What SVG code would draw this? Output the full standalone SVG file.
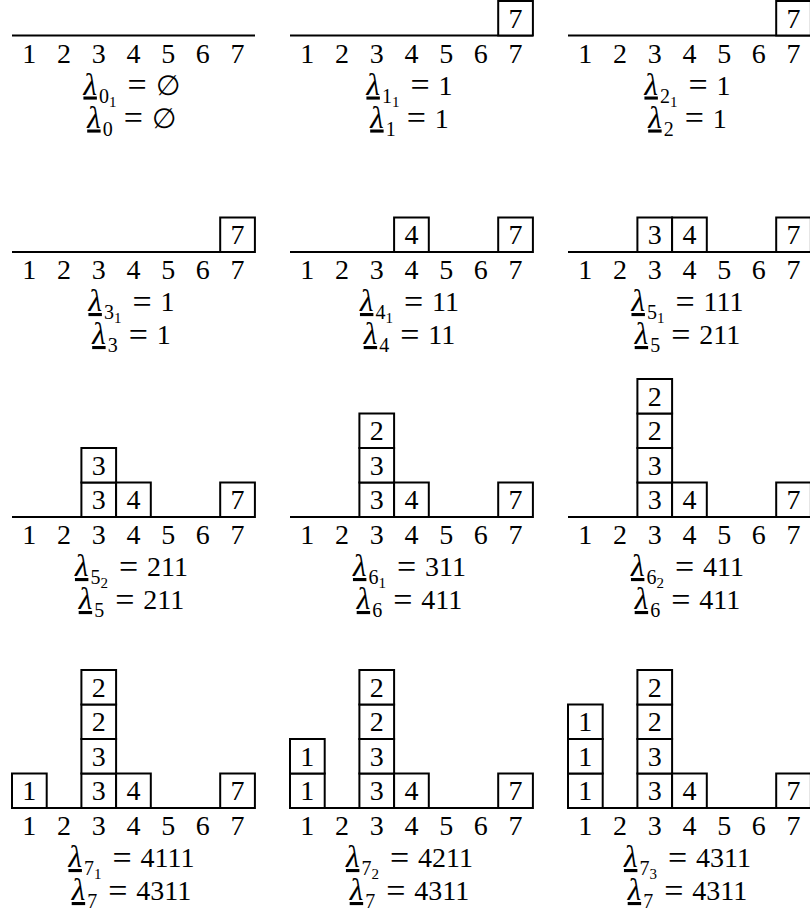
<svg xmlns="http://www.w3.org/2000/svg" width="810" height="915" viewBox="0 0 810 915">
<style>
.ax{stroke:#000;stroke-width:2;fill:none}
.b{fill:#fff;stroke:#000;stroke-width:2}
text{font-family:"Liberation Serif","DejaVu Serif",serif;font-size:28px;fill:#000}
.n{text-anchor:middle}
.lab{text-anchor:middle}
.lam{font-style:italic;text-decoration:underline;font-size:31px}
.s1{font-size:20px}
.s2{font-size:15px}
.eq{font-size:34px}
</style>
<defs>
<g id="axis">
<line class="ax" x1="0" y1="0" x2="243" y2="0"/>
<text class="n" x="17.35 52.05 86.75 121.45 156.15 190.85 225.55" y="27">1234567</text>
</g>
</defs>
<rect width="810" height="915" fill="#fff"/>

<g id="p0" transform="translate(12,35.5)">
<use href="#axis"/>
<text class="lab" x="119.5" y="59"><tspan class="lam">λ</tspan><tspan class="s1" dx="2" dy="8">0</tspan><tspan class="s2" dy="4">1</tspan><tspan class="eq" dx="11" dy="-10.5">=</tspan><tspan dx="9" dy="-1.5">∅</tspan></text>
<text class="lab" x="119.5" y="92"><tspan class="lam">λ</tspan><tspan class="s1" dx="2" dy="8">0</tspan><tspan class="eq" dx="11" dy="-6.5">=</tspan><tspan dx="9" dy="-1.5">∅</tspan></text>
</g>

<g id="p1" transform="translate(290,35.5)">
<use href="#axis"/>
<rect class="b" x="208.2" y="-34.5" width="34.7" height="34.5"/><text class="n" x="225.55" y="-8">7</text>
<text class="lab" x="119.5" y="59"><tspan class="lam">λ</tspan><tspan class="s1" dx="2" dy="8">1</tspan><tspan class="s2" dy="4">1</tspan><tspan class="eq" dx="11" dy="-10.5">=</tspan><tspan dx="9" dy="-1.5">1</tspan></text>
<text class="lab" x="119.5" y="92"><tspan class="lam">λ</tspan><tspan class="s1" dx="2" dy="8">1</tspan><tspan class="eq" dx="11" dy="-6.5">=</tspan><tspan dx="9" dy="-1.5">1</tspan></text>
</g>

<g id="p2" transform="translate(568,35.5)">
<use href="#axis"/>
<rect class="b" x="208.2" y="-34.5" width="34.7" height="34.5"/><text class="n" x="225.55" y="-8">7</text>
<text class="lab" x="119.5" y="59"><tspan class="lam">λ</tspan><tspan class="s1" dx="2" dy="8">2</tspan><tspan class="s2" dy="4">1</tspan><tspan class="eq" dx="11" dy="-10.5">=</tspan><tspan dx="9" dy="-1.5">1</tspan></text>
<text class="lab" x="119.5" y="92"><tspan class="lam">λ</tspan><tspan class="s1" dx="2" dy="8">2</tspan><tspan class="eq" dx="11" dy="-6.5">=</tspan><tspan dx="9" dy="-1.5">1</tspan></text>
</g>

<g id="p3" transform="translate(12,252)">
<use href="#axis"/>
<rect class="b" x="208.2" y="-34.5" width="34.7" height="34.5"/><text class="n" x="225.55" y="-8">7</text>
<text class="lab" x="119.5" y="59"><tspan class="lam">λ</tspan><tspan class="s1" dx="2" dy="8">3</tspan><tspan class="s2" dy="4">1</tspan><tspan class="eq" dx="11" dy="-10.5">=</tspan><tspan dx="9" dy="-1.5">1</tspan></text>
<text class="lab" x="119.5" y="92"><tspan class="lam">λ</tspan><tspan class="s1" dx="2" dy="8">3</tspan><tspan class="eq" dx="11" dy="-6.5">=</tspan><tspan dx="9" dy="-1.5">1</tspan></text>
</g>

<g id="p4" transform="translate(290,252)">
<use href="#axis"/>
<rect class="b" x="104.1" y="-34.5" width="34.7" height="34.5"/><text class="n" x="121.45" y="-8">4</text>
<rect class="b" x="208.2" y="-34.5" width="34.7" height="34.5"/><text class="n" x="225.55" y="-8">7</text>
<text class="lab" x="119.5" y="59"><tspan class="lam">λ</tspan><tspan class="s1" dx="2" dy="8">4</tspan><tspan class="s2" dy="4">1</tspan><tspan class="eq" dx="11" dy="-10.5">=</tspan><tspan dx="9" dy="-1.5">11</tspan></text>
<text class="lab" x="119.5" y="92"><tspan class="lam">λ</tspan><tspan class="s1" dx="2" dy="8">4</tspan><tspan class="eq" dx="11" dy="-6.5">=</tspan><tspan dx="9" dy="-1.5">11</tspan></text>
</g>

<g id="p5" transform="translate(568,252)">
<use href="#axis"/>
<rect class="b" x="69.4" y="-34.5" width="34.7" height="34.5"/><text class="n" x="86.75" y="-8">3</text>
<rect class="b" x="104.1" y="-34.5" width="34.7" height="34.5"/><text class="n" x="121.45" y="-8">4</text>
<rect class="b" x="208.2" y="-34.5" width="34.7" height="34.5"/><text class="n" x="225.55" y="-8">7</text>
<text class="lab" x="119.5" y="59"><tspan class="lam">λ</tspan><tspan class="s1" dx="2" dy="8">5</tspan><tspan class="s2" dy="4">1</tspan><tspan class="eq" dx="11" dy="-10.5">=</tspan><tspan dx="9" dy="-1.5">111</tspan></text>
<text class="lab" x="119.5" y="92"><tspan class="lam">λ</tspan><tspan class="s1" dx="2" dy="8">5</tspan><tspan class="eq" dx="11" dy="-6.5">=</tspan><tspan dx="9" dy="-1.5">211</tspan></text>
</g>

<g id="p6" transform="translate(12,517)">
<use href="#axis"/>
<rect class="b" x="69.4" y="-34.5" width="34.7" height="34.5"/><text class="n" x="86.75" y="-8">3</text>
<rect class="b" x="69.4" y="-69" width="34.7" height="34.5"/><text class="n" x="86.75" y="-42.5">3</text>
<rect class="b" x="104.1" y="-34.5" width="34.7" height="34.5"/><text class="n" x="121.45" y="-8">4</text>
<rect class="b" x="208.2" y="-34.5" width="34.7" height="34.5"/><text class="n" x="225.55" y="-8">7</text>
<text class="lab" x="119.5" y="59"><tspan class="lam">λ</tspan><tspan class="s1" dx="2" dy="8">5</tspan><tspan class="s2" dy="4">2</tspan><tspan class="eq" dx="11" dy="-10.5">=</tspan><tspan dx="9" dy="-1.5">211</tspan></text>
<text class="lab" x="119.5" y="92"><tspan class="lam">λ</tspan><tspan class="s1" dx="2" dy="8">5</tspan><tspan class="eq" dx="11" dy="-6.5">=</tspan><tspan dx="9" dy="-1.5">211</tspan></text>
</g>

<g id="p7" transform="translate(290,517)">
<use href="#axis"/>
<rect class="b" x="69.4" y="-34.5" width="34.7" height="34.5"/><text class="n" x="86.75" y="-8">3</text>
<rect class="b" x="69.4" y="-69" width="34.7" height="34.5"/><text class="n" x="86.75" y="-42.5">3</text>
<rect class="b" x="69.4" y="-103.5" width="34.7" height="34.5"/><text class="n" x="86.75" y="-77">2</text>
<rect class="b" x="104.1" y="-34.5" width="34.7" height="34.5"/><text class="n" x="121.45" y="-8">4</text>
<rect class="b" x="208.2" y="-34.5" width="34.7" height="34.5"/><text class="n" x="225.55" y="-8">7</text>
<text class="lab" x="119.5" y="59"><tspan class="lam">λ</tspan><tspan class="s1" dx="2" dy="8">6</tspan><tspan class="s2" dy="4">1</tspan><tspan class="eq" dx="11" dy="-10.5">=</tspan><tspan dx="9" dy="-1.5">311</tspan></text>
<text class="lab" x="119.5" y="92"><tspan class="lam">λ</tspan><tspan class="s1" dx="2" dy="8">6</tspan><tspan class="eq" dx="11" dy="-6.5">=</tspan><tspan dx="9" dy="-1.5">411</tspan></text>
</g>

<g id="p8" transform="translate(568,517)">
<use href="#axis"/>
<rect class="b" x="69.4" y="-34.5" width="34.7" height="34.5"/><text class="n" x="86.75" y="-8">3</text>
<rect class="b" x="69.4" y="-69" width="34.7" height="34.5"/><text class="n" x="86.75" y="-42.5">3</text>
<rect class="b" x="69.4" y="-103.5" width="34.7" height="34.5"/><text class="n" x="86.75" y="-77">2</text>
<rect class="b" x="69.4" y="-138" width="34.7" height="34.5"/><text class="n" x="86.75" y="-111.5">2</text>
<rect class="b" x="104.1" y="-34.5" width="34.7" height="34.5"/><text class="n" x="121.45" y="-8">4</text>
<rect class="b" x="208.2" y="-34.5" width="34.7" height="34.5"/><text class="n" x="225.55" y="-8">7</text>
<text class="lab" x="119.5" y="59"><tspan class="lam">λ</tspan><tspan class="s1" dx="2" dy="8">6</tspan><tspan class="s2" dy="4">2</tspan><tspan class="eq" dx="11" dy="-10.5">=</tspan><tspan dx="9" dy="-1.5">411</tspan></text>
<text class="lab" x="119.5" y="92"><tspan class="lam">λ</tspan><tspan class="s1" dx="2" dy="8">6</tspan><tspan class="eq" dx="11" dy="-6.5">=</tspan><tspan dx="9" dy="-1.5">411</tspan></text>
</g>

<g id="p9" transform="translate(12,808)">
<use href="#axis"/>
<rect class="b" x="0" y="-34.5" width="34.7" height="34.5"/><text class="n" x="17.35" y="-8">1</text>
<rect class="b" x="69.4" y="-34.5" width="34.7" height="34.5"/><text class="n" x="86.75" y="-8">3</text>
<rect class="b" x="69.4" y="-69" width="34.7" height="34.5"/><text class="n" x="86.75" y="-42.5">3</text>
<rect class="b" x="69.4" y="-103.5" width="34.7" height="34.5"/><text class="n" x="86.75" y="-77">2</text>
<rect class="b" x="69.4" y="-138" width="34.7" height="34.5"/><text class="n" x="86.75" y="-111.5">2</text>
<rect class="b" x="104.1" y="-34.5" width="34.7" height="34.5"/><text class="n" x="121.45" y="-8">4</text>
<rect class="b" x="208.2" y="-34.5" width="34.7" height="34.5"/><text class="n" x="225.55" y="-8">7</text>
<text class="lab" x="119.5" y="59"><tspan class="lam">λ</tspan><tspan class="s1" dx="2" dy="8">7</tspan><tspan class="s2" dy="4">1</tspan><tspan class="eq" dx="11" dy="-10.5">=</tspan><tspan dx="9" dy="-1.5">4111</tspan></text>
<text class="lab" x="119.5" y="92"><tspan class="lam">λ</tspan><tspan class="s1" dx="2" dy="8">7</tspan><tspan class="eq" dx="11" dy="-6.5">=</tspan><tspan dx="9" dy="-1.5">4311</tspan></text>
</g>

<g id="p10" transform="translate(290,808)">
<use href="#axis"/>
<rect class="b" x="0" y="-34.5" width="34.7" height="34.5"/><text class="n" x="17.35" y="-8">1</text>
<rect class="b" x="0" y="-69" width="34.7" height="34.5"/><text class="n" x="17.35" y="-42.5">1</text>
<rect class="b" x="69.4" y="-34.5" width="34.7" height="34.5"/><text class="n" x="86.75" y="-8">3</text>
<rect class="b" x="69.4" y="-69" width="34.7" height="34.5"/><text class="n" x="86.75" y="-42.5">3</text>
<rect class="b" x="69.4" y="-103.5" width="34.7" height="34.5"/><text class="n" x="86.75" y="-77">2</text>
<rect class="b" x="69.4" y="-138" width="34.7" height="34.5"/><text class="n" x="86.75" y="-111.5">2</text>
<rect class="b" x="104.1" y="-34.5" width="34.7" height="34.5"/><text class="n" x="121.45" y="-8">4</text>
<rect class="b" x="208.2" y="-34.5" width="34.7" height="34.5"/><text class="n" x="225.55" y="-8">7</text>
<text class="lab" x="119.5" y="59"><tspan class="lam">λ</tspan><tspan class="s1" dx="2" dy="8">7</tspan><tspan class="s2" dy="4">2</tspan><tspan class="eq" dx="11" dy="-10.5">=</tspan><tspan dx="9" dy="-1.5">4211</tspan></text>
<text class="lab" x="119.5" y="92"><tspan class="lam">λ</tspan><tspan class="s1" dx="2" dy="8">7</tspan><tspan class="eq" dx="11" dy="-6.5">=</tspan><tspan dx="9" dy="-1.5">4311</tspan></text>
</g>

<g id="p11" transform="translate(568,808)">
<use href="#axis"/>
<rect class="b" x="0" y="-34.5" width="34.7" height="34.5"/><text class="n" x="17.35" y="-8">1</text>
<rect class="b" x="0" y="-69" width="34.7" height="34.5"/><text class="n" x="17.35" y="-42.5">1</text>
<rect class="b" x="0" y="-103.5" width="34.7" height="34.5"/><text class="n" x="17.35" y="-77">1</text>
<rect class="b" x="69.4" y="-34.5" width="34.7" height="34.5"/><text class="n" x="86.75" y="-8">3</text>
<rect class="b" x="69.4" y="-69" width="34.7" height="34.5"/><text class="n" x="86.75" y="-42.5">3</text>
<rect class="b" x="69.4" y="-103.5" width="34.7" height="34.5"/><text class="n" x="86.75" y="-77">2</text>
<rect class="b" x="69.4" y="-138" width="34.7" height="34.5"/><text class="n" x="86.75" y="-111.5">2</text>
<rect class="b" x="104.1" y="-34.5" width="34.7" height="34.5"/><text class="n" x="121.45" y="-8">4</text>
<rect class="b" x="208.2" y="-34.5" width="34.7" height="34.5"/><text class="n" x="225.55" y="-8">7</text>
<text class="lab" x="119.5" y="59"><tspan class="lam">λ</tspan><tspan class="s1" dx="2" dy="8">7</tspan><tspan class="s2" dy="4">3</tspan><tspan class="eq" dx="11" dy="-10.5">=</tspan><tspan dx="9" dy="-1.5">4311</tspan></text>
<text class="lab" x="119.5" y="92"><tspan class="lam">λ</tspan><tspan class="s1" dx="2" dy="8">7</tspan><tspan class="eq" dx="11" dy="-6.5">=</tspan><tspan dx="9" dy="-1.5">4311</tspan></text>
</g>
</svg>
